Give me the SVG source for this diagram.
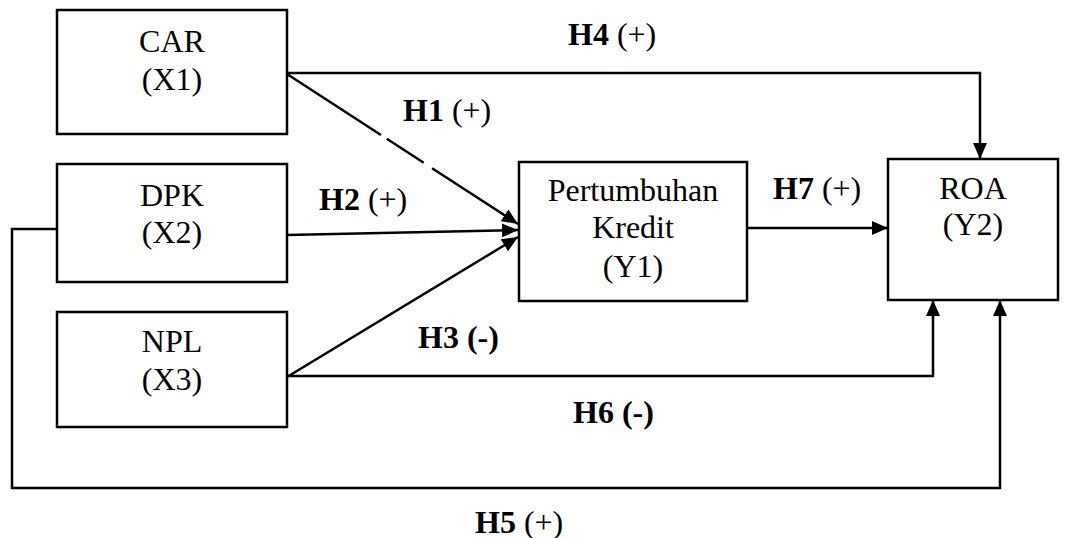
<svg xmlns="http://www.w3.org/2000/svg" width="1072" height="538" viewBox="0 0 1072 538">
<style>
.box{fill:#fff;stroke:#000;stroke-width:2.5}
.t{font-family:"Liberation Serif","Times New Roman",serif;font-size:32px;fill:#000;text-anchor:middle}
.lbl{font-family:"Liberation Serif","Times New Roman",serif;font-size:32px;fill:#000}
.b{font-weight:bold}
.c{fill:none;stroke:#000;stroke-width:2.5}
</style>
<defs>
<marker id="ah" markerUnits="userSpaceOnUse" markerWidth="16" markerHeight="14" refX="16" refY="7" orient="auto">
<path d="M0,0 L16,7 L0,14 z" fill="#000"/>
</marker>
</defs>
<rect width="1072" height="538" fill="#fff"/>
<g id="connectors">
<line class="c" x1="287" y1="74" x2="518" y2="224" stroke-dasharray="112 7 44 10 300" marker-end="url(#ah)"/>
<line class="c" x1="287" y1="235" x2="518" y2="230" marker-end="url(#ah)"/>
<line class="c" x1="287" y1="377" x2="518" y2="237" marker-end="url(#ah)"/>
<polyline class="c" points="287,73 980,73 980,159" marker-end="url(#ah)"/>
<line class="c" x1="747" y1="228" x2="888" y2="228" marker-end="url(#ah)"/>
<polyline class="c" points="287,376 933,376 933,300" marker-end="url(#ah)"/>
<polyline class="c" points="57,229 12,229 12,488 1000,488 1000,300" marker-end="url(#ah)"/>
</g>
<g id="car">
<rect class="box" x="57" y="10" width="230" height="124"/>
<text class="t" x="172" y="52">CAR</text>
<text class="t" x="172" y="90">(X1)</text>
</g>
<g id="dpk">
<rect class="box" x="57" y="164" width="230" height="118"/>
<text class="t" x="172" y="206">DPK</text>
<text class="t" x="172" y="243">(X2)</text>
</g>
<g id="npl">
<rect class="box" x="57" y="312" width="230" height="115"/>
<text class="t" x="172" y="352">NPL</text>
<text class="t" x="172" y="390">(X3)</text>
</g>
<g id="pertumbuhan">
<rect class="box" x="519" y="162" width="228" height="139"/>
<text class="t" x="633" y="201">Pertumbuhan</text>
<text class="t" x="633" y="238">Kredit</text>
<text class="t" x="633" y="277">(Y1)</text>
</g>
<g id="roa">
<rect class="box" x="888" y="159" width="170" height="141"/>
<text class="t" x="973" y="199">ROA</text>
<text class="t" x="973" y="235">(Y2)</text>
</g>
<g id="labels">
<text class="lbl" x="568" y="45"><tspan class="b">H4</tspan> (+)</text>
<text class="lbl" x="403" y="121"><tspan class="b">H1</tspan> (+)</text>
<text class="lbl" x="319" y="210"><tspan class="b">H2</tspan> (+)</text>
<text class="lbl" x="773" y="199"><tspan class="b">H7</tspan> (+)</text>
<text class="lbl b" x="418" y="348">H3 (-)</text>
<text class="lbl b" x="573" y="423">H6 (-)</text>
<text class="lbl" x="475" y="533"><tspan class="b">H5</tspan> (+)</text>
</g>
</svg>
